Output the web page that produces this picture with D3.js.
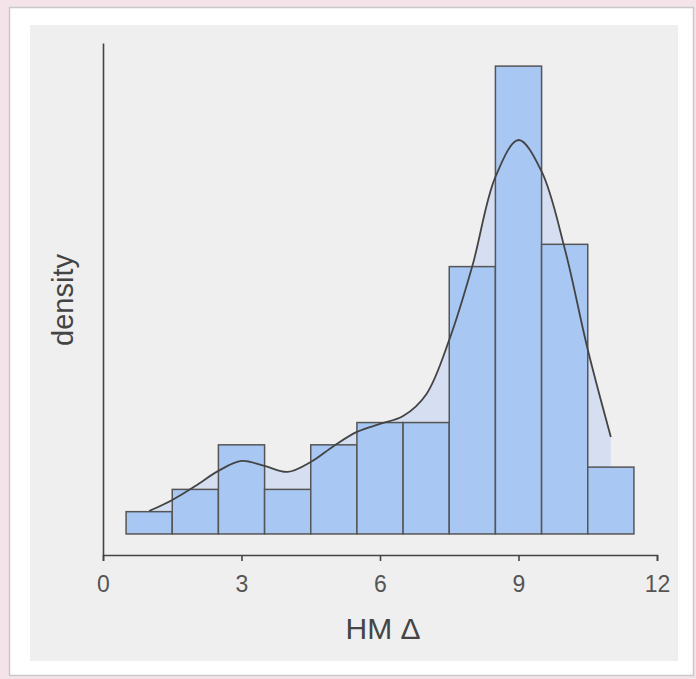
<!DOCTYPE html>
<html>
<head>
<meta charset="utf-8">
<script src="https://cdn.jsdelivr.net/npm/d3@7"></script>
<style>
html,body{margin:0;padding:0;background:#f4e4ea;}
svg{display:block;}
</style>
</head>
<body>
<svg id="chart" width="696" height="679"></svg>
<script>
// Histogram bins (bin centres) and counts
const binCenters = [1, 2, 3, 4, 5, 6, 7, 8, 9, 10, 11];
const binCounts  = [1, 2, 4, 2, 4, 5, 5, 12, 21, 13, 3];
// Density curve
const kdeX = [1, 1.5, 2, 2.5, 3, 3.5, 4, 4.5, 5, 5.5, 6, 6.5, 7, 7.5, 8, 8.5, 9, 9.5, 10, 10.5, 11];
const kdeY = [0.0143, 0.0212, 0.0299, 0.0393, 0.0455, 0.0424, 0.0387, 0.0449, 0.0549, 0.0636, 0.0686,
              0.0735, 0.087, 0.121, 0.167, 0.2226, 0.2456, 0.226, 0.178, 0.115, 0.0605];
const xTicks = [0, 3, 6, 9, 12];
const xTitle = "HM Δ";
const yTitle = "density";

const total = d3.sum(binCounts);
const bins = binCenters.map((c, i) => ({x0: c - 0.5, x1: c + 0.5, d: binCounts[i] / total}));
const kde = kdeX.map((x, i) => ({x, y: kdeY[i]}));
const maxD = d3.max(bins, b => b.d);

const svg = d3.select("#chart");
// card
svg.append("rect").attr("x", 9.5).attr("y", 7.5).attr("width", 684).attr("height", 668)
  .attr("fill", "#ffffff").attr("stroke", "#c9c9c9").attr("stroke-width", 1.5);
// panel
svg.append("rect").attr("x", 30).attr("y", 25).attr("width", 648).attr("height", 636)
  .attr("fill", "#efefef");

const x = d3.scaleLinear().domain([0, 12]).range([103, 657]);
const y = d3.scaleLinear().domain([-0.045 * maxD, 1.0494 * maxD]).range([555, 43]);

// density area (behind bars)
svg.append("path").datum(kde)
  .attr("fill", "#d5dff1")
  .attr("d", d3.area().x(d => x(d.x)).y0(y(0)).y1(d => y(d.y)).curve(d3.curveCatmullRom));

// bars
svg.append("g").selectAll("rect").data(bins).join("rect")
  .attr("x", d => x(d.x0)).attr("width", d => x(d.x1) - x(d.x0))
  .attr("y", d => y(d.d)).attr("height", d => y(0) - y(d.d))
  .attr("fill", "#a8c8f3").attr("stroke", "#555").attr("stroke-width", 1.5);

// density line
svg.append("path").datum(kde)
  .attr("fill", "none").attr("stroke", "#444").attr("stroke-width", 1.8)
  .attr("d", d3.line().x(d => x(d.x)).y(d => y(d.y)).curve(d3.curveCatmullRom));

// axes
const gx = svg.append("g").attr("transform", `translate(0,${555})`)
  .call(d3.axisBottom(x).tickValues(xTicks).tickSizeOuter(0).tickSize(6).tickPadding(15));
gx.selectAll("path,line").attr("stroke", "#444").attr("stroke-width", 1.6);
gx.selectAll("text").attr("fill", "#555").attr("font-size", 23)
  .attr("font-family", "Liberation Sans, Arial, sans-serif");

const gy = svg.append("g").attr("transform", `translate(${103},0)`)
  .call(d3.axisLeft(y).tickValues([]).tickSizeOuter(0));
gy.selectAll("path").attr("stroke", "#444").attr("stroke-width", 1.6);

svg.append("text").attr("x", 383).attr("y", 639).attr("text-anchor", "middle")
  .attr("font-size", 30).attr("fill", "#444").attr("font-family", "Liberation Sans, Arial, sans-serif")
  .text(xTitle);
svg.append("text").attr("transform", "translate(73,300) rotate(-90)").attr("text-anchor", "middle")
  .attr("font-size", 29).attr("fill", "#444").attr("font-family", "Liberation Sans, Arial, sans-serif")
  .text(yTitle);
</script>
</body>
</html>
